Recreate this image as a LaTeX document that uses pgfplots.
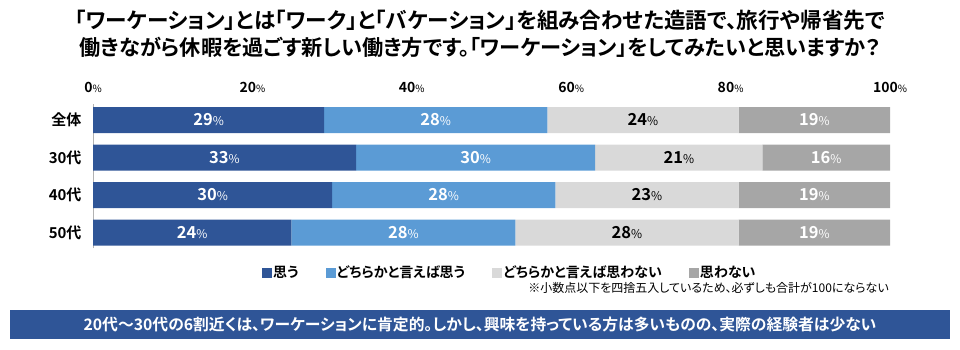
\documentclass[border=0pt]{standalone}
\usepackage{fontspec}
\setmainfont{Noto Sans CJK JP}[BoldFont={Noto Sans CJK JP Bold}, RawFeature={+palt}]
\usepackage{pgfplots}
\pgfplotsset{compat=1.18}
\definecolor{c1}{HTML}{2F5597}
\definecolor{c2}{HTML}{5B9BD5}
\definecolor{c3}{HTML}{D9D9D9}
\definecolor{c4}{HTML}{A6A6A6}
\definecolor{band}{HTML}{2F5597}
\pgfplotsset{
  geom/.style={at={(93pt,-104.25pt)}, anchor=north west, scale only axis,
    width=797pt, height=144pt, xmin=0, xmax=100, ymin=-0.42, ymax=3.42},
  lab/.style={only marks, mark=none, point meta=explicit symbolic,
    nodes near coords={\bfseries\pgfplotspointmeta{\fontsize{12}{12}\selectfont\mdseries\%}},
    every node near coord/.append style={font=\fontsize{16.5}{16.5}\selectfont, anchor=center, inner sep=0pt, text=#1}},
}
\begin{document}
\begin{tikzpicture}[x=1pt,y=1pt]
\path[use as bounding box] (0,0) rectangle (960,-350);
\node[font=\fontsize{21.6}{21.6}\selectfont\bfseries, inner sep=0pt] at (480,-20) {「ワーケーション」とは「ワーク」と「バケーション」を組み合わせた造語で、旅行や帰省先で};
\node[font=\fontsize{21.2}{21.2}\selectfont\bfseries, inner sep=0pt] at (480,-47) {働きながら休暇を過ごす新しい働き方です。「ワーケーション」をしてみたいと思いますか？};
\begin{axis}[geom,
  xbar stacked, bar width=26pt,
  axis x line*=top, axis y line*=left,
  x axis line style={draw=none},
  y axis line style={draw=black!30, line width=0.8pt, -},
  xtick={0,20,...,100}, ytick={0,1,2,3},
  yticklabels={50代,40代,30代,全体},
  major tick length=0pt,
  /pgf/number format/assume math mode=true,
  xticklabel={\bfseries\pgfmathprintnumber{\tick}{\fontsize{10}{10}\selectfont\mdseries\%}},
  xticklabel style={font=\fontsize{14}{14}\selectfont, yshift=8pt},
  yticklabel style={font=\fontsize{15}{15}\selectfont\bfseries, xshift=-8pt},
  legend columns=4,
  legend style={at={(0.212,-0.17)}, anchor=west, draw=none, fill=none,
    font=\fontsize{14}{14}\selectfont\bfseries, inner sep=0pt,
    /tikz/every even column/.append style={column sep=26pt},
    nodes={inner sep=1pt}},
  legend image code/.code={\fill[#1] (0pt,-5pt) rectangle (10pt,5pt);},
]
\addplot[fill=c1, draw=none] coordinates {(24.9,0) (30,1) (33,2) (29,3)};
\addplot[fill=c2, draw=none] coordinates {(28.1,0) (28,1) (30,2) (28,3)};
\addplot[fill=c3, draw=none] coordinates {(28,0) (23,1) (21,2) (24,3)};
\addplot[fill=c4, draw=none] coordinates {(19,0) (19,1) (16,2) (19,3)};
\legend{思う,どちらかと言えば思う,どちらかと言えば思わない,思わない}
\end{axis}
\begin{axis}[geom, hide axis]
\addplot[lab=white] coordinates {(12.45,0) [24] (15,1) [30] (16.5,2) [33] (14.5,3) [29]};
\addplot[lab=white] coordinates {(38.95,0) [28] (44,1) [28] (48,2) [30] (43,3) [28]};
\addplot[lab=black] coordinates {(67,0) [28] (69.5,1) [23] (73.5,2) [21] (69,3) [24]};
\addplot[lab=white] coordinates {(90.5,0) [19] (90.5,1) [19] (92,2) [16] (90.5,3) [19]};
\end{axis}
\node[anchor=east, inner sep=0pt, font=\fontsize{12}{12}\selectfont] at (889,-288) {※小数点以下を四捨五入しているため、必ずしも合計が100にならない};
\fill[band] (10,-310) rectangle (950,-339);
\node[text=white, inner sep=0pt, font=\fontsize{15.8}{15.8}\selectfont\bfseries] at (480,-324.5) {20代～30代の6割近くは、ワーケーションに肯定的。しかし、興味を持っている方は多いものの、実際の経験者は少ない};
\end{tikzpicture}
\end{document}
